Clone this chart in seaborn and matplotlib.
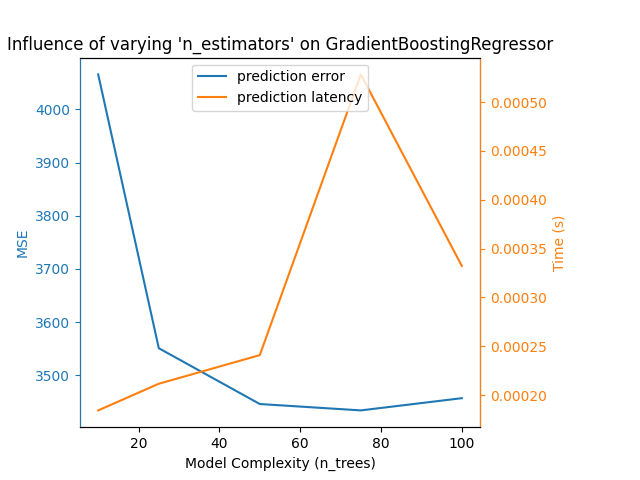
import matplotlib
matplotlib.use("Agg")
import matplotlib.pyplot as plt
import seaborn as sns
import pandas as pd

n_trees = [10, 25, 50, 75, 100]
mse = [4066, 3551, 3446, 3434, 3457]
latency = [0.0001843, 0.0002116, 0.0002409, 0.0005283, 0.0003322]

df = pd.DataFrame({"n_trees": n_trees, "mse": mse, "latency": latency})

fig = plt.figure(figsize=(6.4, 4.8), dpi=100)
fig.subplots_adjust(right=0.75)
ax1 = fig.add_subplot(111)
ax2 = ax1.twinx()

blue = "#1f77b4"
orange = "#ff7f0e"

sns.lineplot(data=df, x="n_trees", y="mse", ax=ax1, color=blue, label="prediction error", legend=False)
sns.lineplot(data=df, x="n_trees", y="latency", ax=ax2, color=orange, label="prediction latency", legend=False)

ax1.set_xlabel("Model Complexity (n_trees)")
ax1.set_ylabel("MSE", color=blue)
ax2.set_ylabel("Time (s)", color=orange)
ax1.tick_params(axis="y", colors=blue)
ax2.tick_params(axis="y", colors=orange)
ax2.spines["left"].set_color(blue)
ax2.spines["right"].set_color(orange)
ax1.set_title("Influence of varying 'n_estimators' on GradientBoostingRegressor")

h1, l1 = ax1.get_legend_handles_labels()
h2, l2 = ax2.get_legend_handles_labels()
ax2.legend(h1 + h2, l1 + l2, loc="upper center")

fig.savefig("out.png", dpi=100)
